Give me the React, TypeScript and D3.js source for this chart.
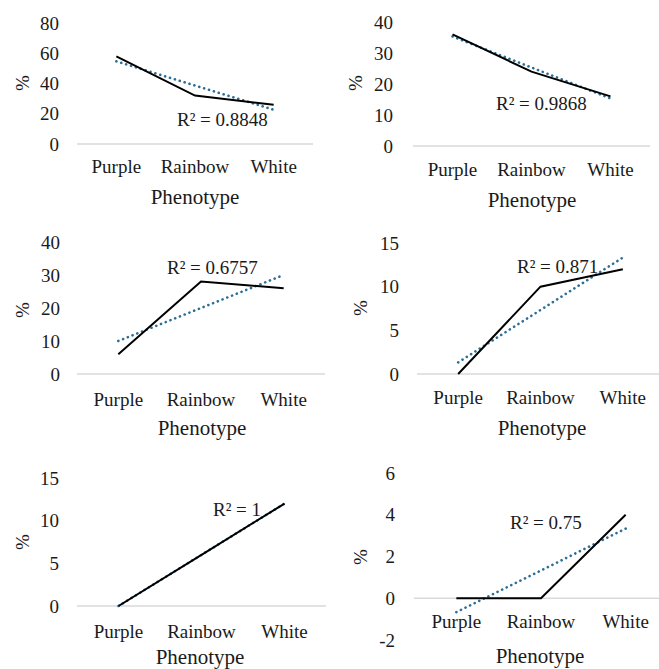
import React from "react";
import * as d3 from "d3";

const categories = ["Purple", "Rainbow", "White"];
const series1 = [58, 32, 26];
const series2 = [36, 24, 16];
const series3 = [6, 28, 26];
const series4 = [0, 10, 12];
const series5 = [0, 6, 12];
const series6 = [0, 0, 4];
const ticks1 = [0, 20, 40, 60, 80];
const ticks2 = [0, 10, 20, 30, 40];
const ticks3 = [0, 10, 20, 30, 40];
const ticks4 = [0, 5, 10, 15];
const ticks5 = [0, 5, 10, 15];
const ticks6 = [-2, 0, 2, 4, 6];
const yLabel = "%";
const xLabel = "Phenotype";

type Layout = {
  values: number[];
  ticks: number[];
  x0: number; x1: number;
  yBottom: number; yTop: number;
  tickX: number;
  pctX: number; pctY: number;
  catY: number;
  titleX: number; titleY: number;
  r2X: number; r2Y: number;
};

const panels: Layout[] = [
  { values: series1, ticks: ticks1, x0: 77, x1: 313, yBottom: 144, yTop: 23, tickX: 59, pctX: 22, pctY: 83, catY: 173, titleX: 195, titleY: 204, r2X: 177, r2Y: 126 },
  { values: series2, ticks: ticks2, x0: 413, x1: 650, yBottom: 146, yTop: 22, tickX: 393, pctX: 355, pctY: 83, catY: 176, titleX: 532, titleY: 207, r2X: 496, r2Y: 110 },
  { values: series3, ticks: ticks3, x0: 77, x1: 325, yBottom: 374, yTop: 242, tickX: 60, pctX: 22, pctY: 310, catY: 406, titleX: 202, titleY: 435, r2X: 167, r2Y: 274 },
  { values: series4, ticks: ticks4, x0: 417, x1: 664, yBottom: 374, yTop: 243, tickX: 399, pctX: 360, pctY: 308, catY: 404, titleX: 542, titleY: 435, r2X: 517, r2Y: 273 },
  { values: series5, ticks: ticks5, x0: 77, x1: 326, yBottom: 606, yTop: 478, tickX: 59, pctX: 22, pctY: 542, catY: 638, titleX: 200, titleY: 664, r2X: 213, r2Y: 516 },
  { values: series6, ticks: ticks6, x0: 414, x1: 668, yBottom: 640, yTop: 473, tickX: 395, pctX: 360, pctY: 557, catY: 628, titleX: 540, titleY: 663, r2X: 510, r2Y: 529 },
];

const FONT = "Liberation Serif, Times New Roman, DejaVu Serif, serif";
const TEXT = "#1a1a1a";
const TREND = "#2c6e96";

function regression(vals: number[]) {
  const xs = vals.map((_, i) => i);
  const mx = d3.mean(xs) as number;
  const my = d3.mean(vals) as number;
  let sxy = 0, sxx = 0;
  xs.forEach((x, i) => { sxy += (x - mx) * (vals[i] - my); sxx += (x - mx) ** 2; });
  const slope = sxy / sxx;
  const intercept = my - slope * mx;
  const fit = xs.map((x) => intercept + slope * x);
  const ssTot = d3.sum(vals, (v) => (v - my) ** 2);
  const ssRes = d3.sum(vals, (v, i) => (v - fit[i]) ** 2);
  return { fit, r2: 1 - ssRes / ssTot };
}

function Panel({ p }: { p: Layout }) {
  const domain = d3.extent(p.ticks) as [number, number];
  const y = d3.scaleLinear().domain(domain).range([p.yBottom, p.yTop]);
  const x = d3.scaleBand().domain(categories).range([p.x0, p.x1]);
  const cx = (c: string) => (x(c) as number) + x.bandwidth() / 2;
  const line = d3.line<number>().x((_, i) => cx(categories[i])).y((v) => y(v));
  const { fit, r2 } = regression(p.values);
  const r2Text = "R² = " + d3.format(".4~f")(r2);
  const ts = { fontFamily: FONT, fill: TEXT };
  return (
    <g>
      <line x1={p.x0} x2={p.x1} y1={y(0)} y2={y(0)} stroke="#d9d9d9" strokeWidth={1.5} />
      {p.ticks.map((t) => (
        <text key={t} x={p.tickX} y={y(t)} dy="0.35em" textAnchor="end" fontSize={19} style={ts}>
          {t}
        </text>
      ))}
      <text transform={`translate(${p.pctX},${p.pctY}) rotate(-90)`} dy="0.35em" textAnchor="middle" fontSize={19} style={ts}>
        {yLabel}
      </text>
      {categories.map((c) => (
        <text key={c} x={cx(c)} y={p.catY} textAnchor="middle" fontSize={19} style={ts}>
          {c}
        </text>
      ))}
      <text x={p.titleX} y={p.titleY} textAnchor="middle" fontSize={21} style={ts}>
        {xLabel}
      </text>
      <path d={line(fit) as string} fill="none" stroke={TREND} strokeWidth={2.6} strokeLinecap="round" strokeDasharray="0.1 5" />
      <path d={line(p.values) as string} fill="none" stroke="#000" strokeWidth={2} />
      <text x={p.r2X} y={p.r2Y} fontSize={19} style={ts}>
        {r2Text}
      </text>
    </g>
  );
}

export default function App() {
  return (
    <svg width={659} height={669} style={{ position: "absolute", left: 0, top: 0, background: "#fff" }}>
      <rect width={659} height={669} fill="#fff" />
      {panels.map((p, i) => (
        <Panel key={i} p={p} />
      ))}
    </svg>
  );
}
